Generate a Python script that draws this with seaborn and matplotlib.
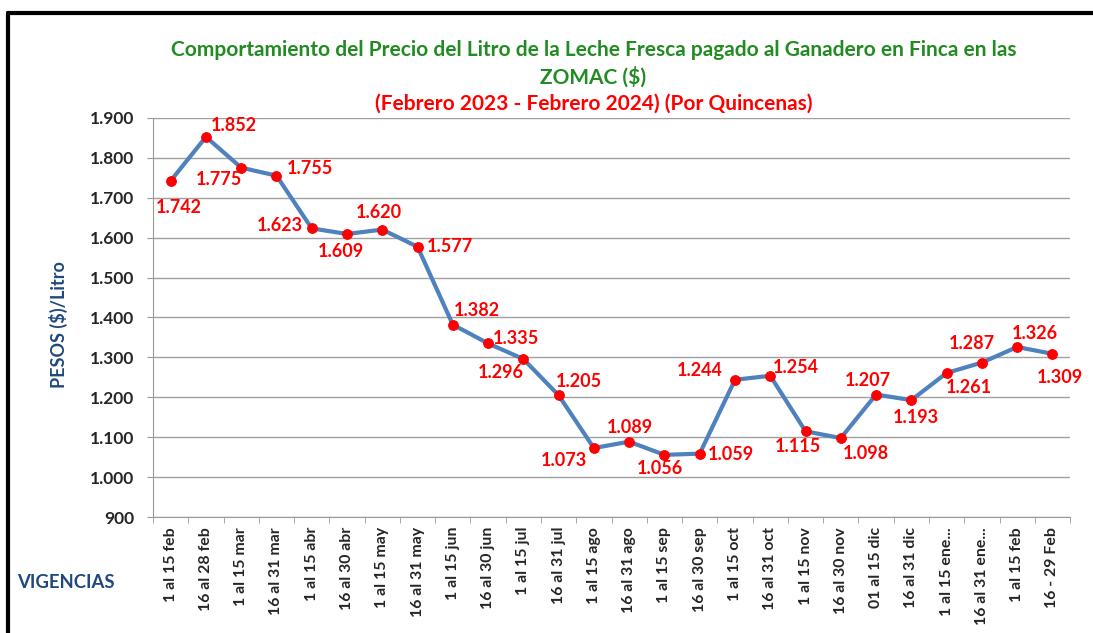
import seaborn as sns
import numpy as np
import pandas as pd
import matplotlib.pyplot as plt
from matplotlib.ticker import FuncFormatter, MultipleLocator
from matplotlib.lines import Line2D

sns.set_style("white")
plt.rcParams["font.family"] = ["Lato", "DejaVu Sans"]
plt.rcParams["font.weight"] = "bold"

periodos = ["1 al 15 feb", "16 al 28 feb", "1 al 15 mar", "16 al 31 mar", "1 al 15 abr",
            "16 al 30 abr", "1 al 15 may", "16 al 31 may", "1 al 15 jun", "16 al 30 jun",
            "1 al 15 jul", "16 al 31 jul", "1 al 15 ago", "16 al 31 ago", "1 al 15 sep",
            "16 al 30 sep", "1 al 15 oct", "16 al 31 oct", "1 al 15 nov", "16 al 30 nov",
            "01 al 15 dic", "16 al 31 dic", "1 al 15 ene...", "16 al 31 ene...", "1 al 15 feb",
            "16 - 29 Feb"]
precios = [1742, 1852, 1775, 1755, 1623, 1609, 1620, 1577, 1382, 1335, 1296, 1205, 1073,
           1089, 1056, 1059, 1244, 1254, 1115, 1098, 1207, 1193, 1261, 1287, 1326, 1309]

# label offsets in pixels (dx, dy)
offsets = [(8, -27), (28, 11), (-22, -12), (33, 7), (-32, 3), (-6, -18), (-3, 17), (32, 0),
           (24, 14), (28, 5), (-23, -14), (20, 14), (-30, -12), (1, 14), (-5, -14), (31, -1),
           (-35, 9), (26, 8), (-8, -15), (25, -15), (-8, 14), (5, -17), (22, -15), (-10, 19),
           (18, 14), (7, -24)]

df = pd.DataFrame({"idx": np.arange(len(precios)), "precio": precios})

fig = plt.figure(figsize=(10.93, 6.33), dpi=100)
ax = fig.add_axes([0.140, 0.183, 0.839, 0.631])

sns.lineplot(data=df, x="idx", y="precio", ax=ax, color="#4f81bd", linewidth=3,
             marker="o", markersize=7, markerfacecolor="#ff0000", markeredgecolor="#ff0000",
             zorder=3)

for i, v in enumerate(precios):
    dx, dy = offsets[i]
    ax.annotate(f"{v:,}".replace(",", "."), (i, v), xytext=(dx, dy), textcoords="offset pixels",
                ha="center", va="center", color="#ff0000", fontsize=13, fontweight="bold")

ax.set_xlim(-0.5, len(precios) - 0.5)
ax.set_ylim(900, 1900)
ax.yaxis.set_major_locator(MultipleLocator(100))
ax.yaxis.set_major_formatter(FuncFormatter(lambda x, _: f"{int(x):,}".replace(",", ".")))
ax.set_xticks(np.arange(len(precios)))
ax.set_xticklabels(periodos, rotation=90, fontsize=11.4, fontweight="bold")
ax.set_xticks(np.arange(len(precios) + 1) - 0.5, minor=True)
ax.tick_params(axis="x", which="major", length=0, pad=7)
ax.tick_params(axis="x", which="minor", length=4.5, color="#999999", direction="out", bottom=True)
ax.tick_params(axis="y", length=4.5, color="#999999", direction="out", left=True, labelsize=12.5,
               pad=9)
for t in ax.get_yticklabels():
    t.set_fontweight("bold")
ax.grid(axis="y", color="#a0a0a0", linewidth=1)
ax.set_axisbelow(True)
for s in ["top", "right"]:
    ax.spines[s].set_visible(False)
for s in ["left", "bottom"]:
    ax.spines[s].set_color("#999999")
ax.set_xlabel("")
ax.set_ylabel("PESOS ($)/Litro", color="#1f497d", fontsize=13, fontweight="bold")
ax.yaxis.set_label_coords(-0.093, 0.481)

fig.text(0.543, 0.921, "Comportamiento del Precio del Litro de la Leche Fresca pagado al Ganadero en Finca en las",
         ha="center", va="center", color="#228b22", fontsize=15, fontweight="bold")
fig.text(0.543, 0.878, "ZOMAC ($)", ha="center", va="center", color="#228b22", fontsize=15,
         fontweight="bold")
fig.text(0.543, 0.836, "(Febrero 2023 - Febrero 2024) (Por Quincenas)", ha="center", va="center",
         color="#ff0000", fontsize=15, fontweight="bold")
fig.text(0.016, 0.079, "VIGENCIAS", ha="left", va="center", color="#1f497d", fontsize=13.3,
         fontweight="bold")

fig.add_artist(Line2D([0.0075, 1.0], [0.979, 0.979], color="black", linewidth=3))
fig.add_artist(Line2D([0.0075, 0.0075], [0.0, 0.979], color="black", linewidth=3))

fig.savefig("out.png", dpi=100)
